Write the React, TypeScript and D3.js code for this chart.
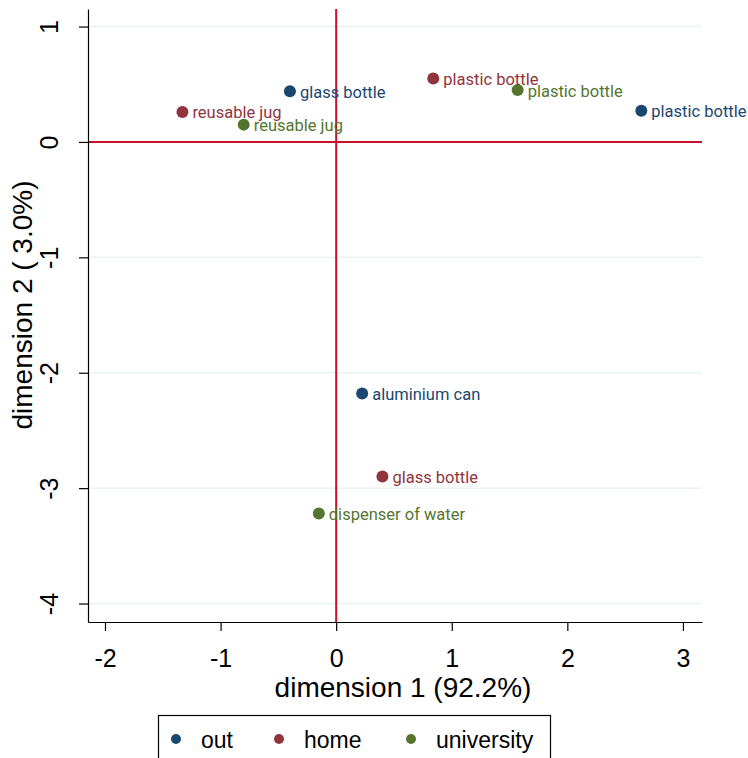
import { useEffect, useRef } from "react";
import * as d3 from "d3";

const groups = ["out", "home", "university"];
const groupColors = ["#1a476f", "#90353b", "#55752f"];

const pointGroup = ["out", "out", "out", "home", "home", "home", "university", "university", "university"];
const pointLabel = [
  "glass bottle",
  "aluminium can",
  "plastic bottle",
  "reusable jug",
  "plastic bottle",
  "glass bottle",
  "reusable jug",
  "plastic bottle",
  "dispenser of water",
];
const dim1 = [-0.4, 0.225, 2.64, -1.33, 0.84, 0.4, -0.8, 1.57, -0.15];
const dim2 = [0.44, -2.18, 0.27, 0.26, 0.55, -2.9, 0.15, 0.45, -3.22];

const xTicks = [-2, -1, 0, 1, 2, 3];
const yTicks = [1, 0, -1, -2, -3, -4];

export default function App() {
  const svgRef = useRef<SVGSVGElement>(null);

  useEffect(() => {
    const el = svgRef.current;
    if (!el) return;
    d3.select(el).selectAll("*").remove();

    const W = 748;
    const H = 758;
    const m = { top: 9, right: 46, bottom: 136, left: 88 };
    const iw = W - m.left - m.right;
    const ih = H - m.top - m.bottom;

    const xs = d3.scaleLinear().domain([-2.147, 3.165]).range([0, iw]);
    const ys = d3.scaleLinear().domain([-4.16, 1.152]).range([ih, 0]);
    const color = d3.scaleOrdinal<string, string>().domain(groups).range(groupColors);

    const svg = d3
      .select(el)
      .attr("viewBox", `0 0 ${W} ${H}`)
      .append("g")
      .attr("transform", `translate(${m.left},${m.top})`);

    const axisFont = "'Liberation Sans', Arial, sans-serif";

    // Grid
    svg
      .selectAll(".gy")
      .data(yTicks)
      .enter()
      .append("line")
      .attr("x1", 0)
      .attr("x2", iw)
      .attr("y1", (d) => ys(d))
      .attr("y2", (d) => ys(d))
      .attr("stroke", "#eaf2f3")
      .attr("stroke-width", 1.5);

    // Reference lines
    svg
      .append("line")
      .attr("x1", 0)
      .attr("x2", iw)
      .attr("y1", ys(0))
      .attr("y2", ys(0))
      .attr("stroke", "#c8102e")
      .attr("stroke-width", 2);
    svg
      .append("line")
      .attr("x1", xs(0))
      .attr("x2", xs(0))
      .attr("y1", 0)
      .attr("y2", ih)
      .attr("stroke", "#c8102e")
      .attr("stroke-width", 2);

    // Axes
    const aStyle = (g: any) => {
      g.select(".domain").attr("stroke", "#000").attr("stroke-width", 1.2);
      g.selectAll(".tick line").attr("stroke", "#000").attr("stroke-width", 1.2);
      g.selectAll(".tick text")
        .attr("fill", "#000")
        .style("font-size", "25px")
        .style("font-family", axisFont);
    };
    const fmt = (d: any) => String(d);
    const xAxis = svg
      .append("g")
      .attr("transform", `translate(0,${ih})`)
      .call(d3.axisBottom(xs).tickValues(xTicks).tickFormat(fmt).tickSize(9).tickSizeOuter(0))
      .call(aStyle);
    xAxis
      .selectAll(".tick text")
      .attr("y", 36)
      .attr("dy", null)
      .attr("dominant-baseline", "central");
    const yAxis = svg
      .append("g")
      .call(d3.axisLeft(ys).tickValues(yTicks).tickFormat(fmt).tickSize(9).tickSizeOuter(0))
      .call(aStyle);
    yAxis
      .selectAll(".tick text")
      .attr("x", -39)
      .attr("dy", null)
      .attr("text-anchor", "middle")
      .attr("dominant-baseline", "central")
      .attr("transform", "rotate(-90,-39,0)");

    // Axis titles
    svg
      .append("text")
      .attr("x", iw / 2 + 8)
      .attr("y", ih + 65)
      .attr("text-anchor", "middle")
      .attr("dominant-baseline", "central")
      .attr("fill", "#000")
      .style("font-size", "28px")
      .style("font-family", axisFont)
      .text("dimension 1 (92.2%)");
    svg
      .append("text")
      .attr("transform", "rotate(-90)")
      .attr("x", -(305 - m.top))
      .attr("y", -66)
      .attr("text-anchor", "middle")
      .attr("dominant-baseline", "central")
      .attr("fill", "#000")
      .style("font-size", "28px")
      .style("font-family", axisFont)
      .text("dimension 2 ( 3.0%)");

    // Points
    const idx = d3.range(dim1.length);
    svg
      .selectAll(".pt")
      .data(idx)
      .enter()
      .append("circle")
      .attr("cx", (i) => xs(dim1[i]))
      .attr("cy", (i) => ys(dim2[i]))
      .attr("r", 6)
      .attr("fill", (i) => color(pointGroup[i]));
    svg
      .selectAll(".lbl")
      .data(idx)
      .enter()
      .append("text")
      .attr("x", (i) => xs(dim1[i]) + 10)
      .attr("y", (i) => ys(dim2[i]) + 1)
      .attr("dominant-baseline", "central")
      .attr("fill", (i) => color(pointGroup[i]))
      .style("font-size", "16.5px")
      .style("font-family", "Roboto, sans-serif")
      .text((i) => pointLabel[i]);

    // Legend
    const root = d3.select(el);
    root
      .append("rect")
      .attr("x", 158.5)
      .attr("y", 715.5)
      .attr("width", 392)
      .attr("height", 60)
      .attr("fill", "#fff")
      .attr("stroke", "#000")
      .attr("stroke-width", 1.2);
    const legX = [176, 279, 411];
    groups.forEach((g, i) => {
      root
        .append("circle")
        .attr("cx", legX[i])
        .attr("cy", 739)
        .attr("r", 5)
        .attr("fill", color(g));
      root
        .append("text")
        .attr("x", legX[i] + 25)
        .attr("y", 740)
        .attr("dominant-baseline", "central")
        .attr("fill", "#000")
        .style("font-size", "23px")
        .style("font-family", axisFont)
        .text(g);
    });
  }, []);

  return (
    <svg
      ref={svgRef}
      width={748}
      height={758}
      style={{ position: "absolute", left: 0, top: 0, background: "#fff" }}
    />
  );
}
